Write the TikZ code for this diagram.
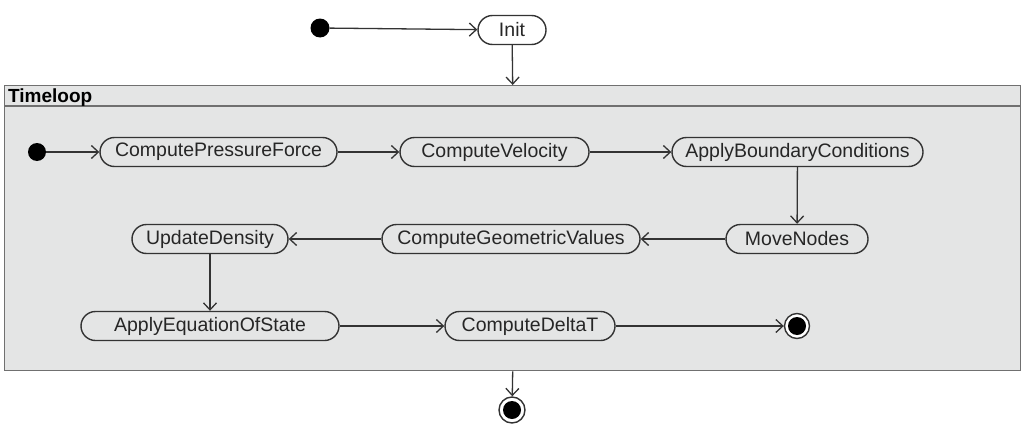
\documentclass[tikz,border=0pt]{standalone}
\usepackage{fontspec}
\setmainfont{Liberation Sans}
\usetikzlibrary{arrows.meta}
\definecolor{linec}{HTML}{333333}
\definecolor{boxfill}{HTML}{E4E5E5}
\definecolor{framec}{HTML}{707070}
\tikzset{
  act/.style={draw=linec, line width=1.4pt, rounded corners=14.5pt, minimum height=29pt,
    inner xsep=4pt, font=\fontsize{19.5}{22}\selectfont, text=black!85},
  startdot/.style={circle, fill=black, minimum size=19pt, inner sep=0pt},
  enddot/.style={circle, draw=linec, line width=1.4pt, fill=white, minimum size=26pt, inner sep=0pt,
    path picture={\fill[black] (path picture bounding box.center) circle (9pt);}},
  flow/.style={draw=linec, line width=1.3pt, -{Straight Barb[length=7pt,width=13pt,line width=1.3pt]}}
}
\begin{document}
\begin{tikzpicture}[x=1pt,y=-1pt]
\useasboundingbox (0,0) rectangle (1028,431);
% container
\node (loop) [draw=framec, line width=1.4pt, fill=boxfill, minimum width=1016pt, minimum height=285pt,
  inner sep=0pt, anchor=north west] at (4,85) {};
\draw[framec, line width=1.4pt] (4,106) -- (1020,106);
\node (title) [anchor=base west, inner sep=0pt, font=\fontsize{19}{21}\selectfont\bfseries] at (8,102.5) {Timeloop};
% top
\node (s0) [startdot] at (320,28) {};
\node (init) [act, minimum width=68pt] at (512,30) {Init};
% inside
\node (s1) [startdot, minimum size=18pt] at (37,152) {};
\node (cpf) [act, minimum width=237pt] at (218.5,152) {ComputePressureForce};
\node (cv) [act, minimum width=189pt] at (494.5,152) {ComputeVelocity};
\node (abc) [act, minimum width=251pt] at (797.5,152) {ApplyBoundaryConditions};
\node (mn) [act, minimum width=142pt] at (797,239) {MoveNodes};
\node (cgv) [act, minimum width=258pt] at (511,239) {ComputeGeometricValues};
\node (ud) [act, minimum width=156pt] at (210,239) {UpdateDensity};
\node (aeos) [act, minimum width=258pt] at (210,326) {ApplyEquationOfState};
\node (cdt) [act, minimum width=170pt] at (530,326) {ComputeDeltaT};
\node (e1) [enddot, minimum size=25pt] at (797,326) {};
\node (e0) [enddot] at (512,410) {};
% flows
\draw[flow] (s0) -- (init);
\draw[flow] (init) -- (loop.north);
\draw[flow] (s1) -- (cpf);
\draw[flow] (cpf) -- (cv);
\draw[flow] (cv) -- (abc);
\draw[flow] (abc) -- (mn);
\draw[flow] (mn) -- (cgv);
\draw[flow] (cgv) -- (ud);
\draw[flow] (ud) -- (ud |- aeos.north);
\draw[flow] (aeos) -- (cdt);
\draw[flow] (cdt) -- (e1);
\draw[flow] (loop.south) -- (e0);
\end{tikzpicture}
\end{document}
